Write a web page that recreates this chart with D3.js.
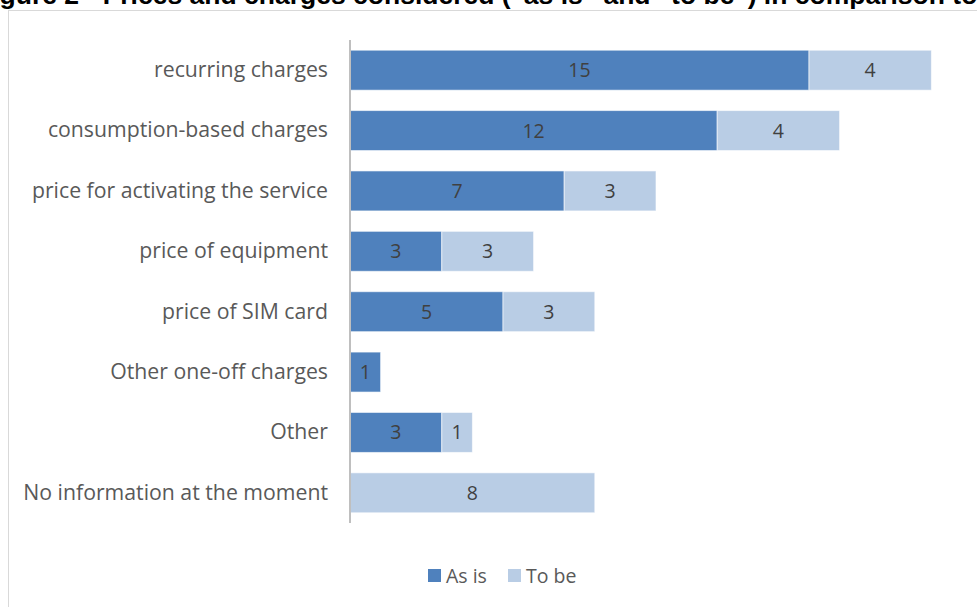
<!DOCTYPE html>
<html>
<head>
<meta charset="utf-8">
<script src="https://cdn.jsdelivr.net/npm/d3@7"></script>
<style>
  html, body { margin: 0; padding: 0; background: #fff; overflow: hidden; }
  svg { display: block; }
</style>
</head>
<body>
<svg id="chart" width="977" height="607"></svg>
<script>
// Categories (top to bottom) and the two stacked series
const categories = [
  "recurring charges",
  "consumption-based charges",
  "price for activating the service",
  "price of equipment",
  "price of SIM card",
  "Other one-off charges",
  "Other",
  "No information at the moment"
];
const asIs = [15, 12, 7, 3, 5, 1, 3, 0];
const toBe = [4, 4, 3, 3, 3, 0, 1, 8];
const seriesNames = ["As is", "To be"];
const seriesColors = ["#4F81BD", "#B9CDE5"];
const titleText = "Figure 2 - Prices and charges considered (\u201Cas is\u201D and \u201Cto be\u201D) in comparison to";

const svg = d3.select("#chart");
const labelFont = "'Open Sans', 'Noto Sans', 'DejaVu Sans', sans-serif";

// Chart frame
svg.append("rect")
  .attr("x", 8.5).attr("y", 10.5)
  .attr("width", 1000).attr("height", 700)
  .attr("fill", "#fff")
  .attr("stroke", "#D9D9D9").attr("stroke-width", 1);

// Figure caption running off the top edge
svg.append("text")
  .attr("x", -24).attr("y", 4)
  .attr("font-family", "'Liberation Sans', Arial, sans-serif")
  .attr("font-weight", "bold")
  .attr("font-size", 26.5)
  .attr("fill", "#000")
  .text(titleText);

// Scales
const x = d3.scaleLinear().domain([0, 20]).range([350, 962]);
const y = d3.scaleBand().domain(categories).range([40, 523])
  .paddingInner(0.338).paddingOuter(0.169);

const rows = categories.map((c, i) => ({ cat: c, "As is": asIs[i], "To be": toBe[i] }));
const stacked = d3.stack().keys(seriesNames)(rows);

// Bars
const layers = svg.append("g").selectAll("g")
  .data(stacked).join("g")
  .attr("fill", (d, i) => seriesColors[i]);

layers.selectAll("rect")
  .data(d => d.filter(p => p[1] - p[0] > 0))
  .join("rect")
  .attr("x", d => x(d[0]))
  .attr("y", d => y(d.data.cat))
  .attr("width", d => x(d[1]) - x(d[0]))
  .attr("height", y.bandwidth())
  .attr("stroke", "#fff").attr("stroke-opacity", 0.6).attr("stroke-width", 1);

// Value labels centred in each segment
layers.selectAll("text")
  .data(d => d.filter(p => p[1] - p[0] > 0))
  .join("text")
  .attr("x", d => (x(d[0]) + x(d[1])) / 2)
  .attr("y", d => y(d.data.cat) + y.bandwidth() / 2)
  .attr("dy", "0.36em")
  .attr("text-anchor", "middle")
  .attr("font-family", labelFont)
  .attr("font-size", 19.5)
  .attr("fill", "#404040")
  .text(d => d[1] - d[0]);

// Category axis
const axis = svg.append("g")
  .attr("transform", `translate(${x(0)},0)`)
  .call(d3.axisLeft(y).tickSize(0).tickPadding(22));
axis.select(".domain")
  .attr("d", `M0,${y.range()[0]}V${y.range()[1]}`)
  .attr("stroke", "#BFBFBF").attr("stroke-width", 2);
const tickText = axis.selectAll("text")
  .attr("font-family", labelFont)
  .attr("font-size", 19)
  .attr("fill", "#595959");
// size the category labels so the longest one spans 305px
const longest = d3.max(tickText.nodes(), n => n.getComputedTextLength());
const labelSize = 19 * 305 / longest;
tickText.attr("font-size", labelSize);

// Legend
const legend = svg.append("g").attr("transform", "translate(428,569)");
const legendX = [0, 80];
seriesNames.forEach((name, i) => {
  const g = legend.append("g").attr("transform", `translate(${legendX[i]},0)`);
  g.append("rect").attr("width", 13).attr("height", 13).attr("fill", seriesColors[i]);
  g.append("text")
    .attr("x", 18).attr("y", 7).attr("dy", "0.36em")
    .attr("font-family", labelFont)
    .attr("font-size", 19.5)
    .attr("fill", "#595959")
    .text(name);
});
</script>
</body>
</html>
